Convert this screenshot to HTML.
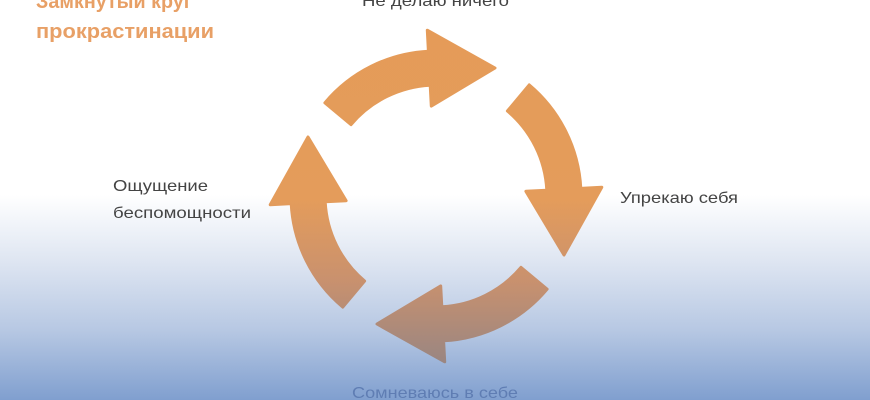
<!DOCTYPE html>
<html><head><meta charset="utf-8"><style>
html,body{margin:0;padding:0}
body{width:870px;height:400px;overflow:hidden;position:relative;font-family:"Liberation Sans","Noto Sans CJK SC",sans-serif;background:linear-gradient(to bottom,#fff 0,#fff 195px,#dfe6f2 260px,#b7c8e3 330px,#809fcf 400px)}
</style></head><body>
<svg width="870" height="400" style="position:absolute;left:0;top:0">
<defs><linearGradient id="g" gradientUnits="userSpaceOnUse" x1="0" y1="0" x2="0" y2="400">
<stop offset="0" stop-color="#e59b58"/><stop offset="0.5" stop-color="#e49c5b"/><stop offset="0.7" stop-color="#c9916e"/><stop offset="0.9" stop-color="#9b8681"/><stop offset="1" stop-color="#948482"/></linearGradient></defs>
<g fill="url(#g)" stroke="url(#g)" stroke-width="3" stroke-linejoin="round">
<path d="M324.9,102.8 A145,145 0 0 1 428.4,51.2 L427.3,30.2 L495,68 L431.3,106.1 L430.2,85.2 A111,111 0 0 0 351,124.6 Z"/>
<path d="M529.2,84.9 A145,145 0 0 1 580.8,188.4 L601.8,187.3 L564,255 L525.9,191.3 L546.8,190.2 A111,111 0 0 0 507.4,111 Z"/>
<path d="M547.1,289.2 A145,145 0 0 1 443.6,340.8 L444.7,361.8 L377,324 L440.7,285.9 L441.8,306.8 A111,111 0 0 0 521,267.4 Z"/>
<path d="M342.8,307.1 A145,145 0 0 1 291.2,203.6 L270.2,204.7 L308,137 L346.1,200.7 L325.2,201.8 A111,111 0 0 0 364.6,281 Z"/>
</g>
<g font-family="Liberation Sans, sans-serif">
<text x="36" y="8" font-size="20" font-weight="bold" fill="#e8a066" textLength="156" lengthAdjust="spacingAndGlyphs">Замкнутый круг</text>
<text x="36" y="38" font-size="20" font-weight="bold" fill="#e8a066" textLength="178" lengthAdjust="spacingAndGlyphs">прокрастинации</text>
<text x="362" y="6" font-size="16" fill="#444" textLength="147" lengthAdjust="spacingAndGlyphs">Не делаю ничего</text>
<text x="620" y="203" font-size="16" fill="#444" textLength="118" lengthAdjust="spacingAndGlyphs">Упрекаю себя</text>
<text x="113" y="191" font-size="16" fill="#444" textLength="95" lengthAdjust="spacingAndGlyphs">Ощущение</text>
<text x="113" y="218" font-size="16" fill="#444" textLength="138" lengthAdjust="spacingAndGlyphs">беспомощности</text>
<text x="352" y="398" font-size="16" fill="#5f7db3" textLength="166" lengthAdjust="spacingAndGlyphs">Сомневаюсь в себе</text>
</g>
</svg>
</body></html>
